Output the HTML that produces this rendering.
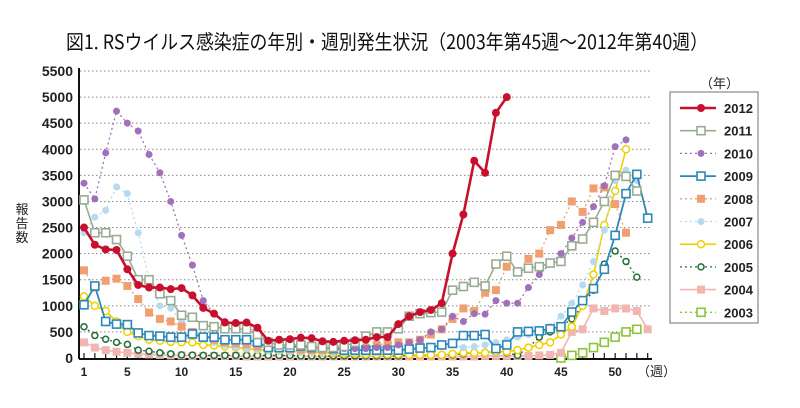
<!DOCTYPE html>
<html><head><meta charset="utf-8"><style>
body{margin:0;background:#fff;width:800px;height:403px;overflow:hidden}
</style></head><body>
<svg id="s" width="800" height="403" xmlns="http://www.w3.org/2000/svg" font-family="Liberation Sans, Noto Sans CJK JP, sans-serif">
<text x="66" y="49" font-size="20" font-family="Noto Sans CJK JP, sans-serif" textLength="642" lengthAdjust="spacingAndGlyphs" fill="#111">図1. RSウイルス感染症の年別・週別発生状況（2003年第45週〜2012年第40週）</text>
</svg>
<script>
const s=document.getElementById('s');const NS='http://www.w3.org/2000/svg';
function el(t,a,txt){const e=document.createElementNS(NS,t);for(const k in a)e.setAttribute(k,a[k]);if(txt!=null)e.textContent=txt;s.appendChild(e);return e;}
const X=w=>84+(w-1)*10.84, Y=v=>358-v*(287/5500);
// grid
for(let v=500;v<=5500;v+=500){el('line',{x1:80,x2:652,y1:Y(v),y2:Y(v),stroke:'#888','stroke-width':1,'stroke-dasharray':'1.5,2.5'});}
for(let v=0;v<=5500;v+=500){el('text',{x:73,y:Y(v)+5,'text-anchor':'end','font-size':14,'font-weight':'bold',fill:'#222'},v);}
el('line',{x1:79,x2:79,y1:68,y2:359,stroke:'#111','stroke-width':2});
el('line',{x1:79,x2:652,y1:359,y2:359,stroke:'#111','stroke-width':2});
for(let w=1;w<=53;w++){el('line',{x1:X(w),x2:X(w),y1:359,y2:353,stroke:'#111','stroke-width':1.2});}
[1,5,10,15,20,25,30,35,40,45,50].forEach(w=>el('text',{x:X(w),y:376,'text-anchor':'middle','font-size':12,'font-weight':'bold',fill:'#222'},w));
el('text',{x:637,y:376,'font-size':13,'font-family':'Noto Sans CJK JP, sans-serif',fill:'#222'},'（週）');
['報','告','数'].forEach((c,i)=>el('text',{x:22,y:214+i*14,'text-anchor':'middle','font-size':13,'font-family':'Noto Sans CJK JP, sans-serif',fill:'#222'},c));
const S=[
['2012','#c8102e',2.6,'none','dot',4,1,[2500,2170,2080,2070,1700,1400,1350,1350,1320,1340,1200,960,850,680,670,680,580,330,350,360,390,380,320,310,330,340,350,400,400,650,800,880,920,1050,2000,2750,3780,3550,4700,5000]],
['2011','#9aab94',1.6,'none','sq',4,1,[3030,2400,2400,2270,1950,1500,1500,1230,1100,820,780,620,600,560,560,550,450,300,250,250,250,220,200,200,220,300,420,500,500,560,800,850,870,880,1300,1370,1450,1380,1800,1950,1650,1720,1750,1820,1850,2150,2280,2600,3000,3500,3480,3200]],
['2010','#a070b8',1.3,'2,3','dot',3.5,1,[3350,3050,3930,4730,4500,4350,3900,3550,3000,2350,1780,1100,850,700,650,600,500,300,250,250,230,200,200,180,180,180,180,200,200,250,300,350,500,550,800,700,850,840,1100,1050,1050,1350,1600,1800,2000,2300,2600,2900,3300,4050,4180]],
['2009','#2b88b8',1.8,'none','sq',4,1,[1020,1380,700,650,640,480,430,420,400,400,460,400,400,350,350,350,300,200,200,200,230,200,200,180,150,150,150,150,150,150,170,190,200,250,280,430,430,450,180,250,500,510,520,560,600,880,1100,1330,1700,2350,3150,3520,2680]],
['2008','#f0a070',1.3,'2,3','fsq',4,1,[1680,1350,1480,1520,1380,1130,870,750,700,600,500,400,350,300,280,260,220,200,180,170,160,150,150,150,160,180,200,250,280,300,300,350,450,550,750,950,900,1250,1300,1750,1650,1900,2000,2450,2550,3000,2800,3250,3270,2950,2400]],
['2007','#b8daf0',1.3,'2,3','dot',3.5,1,[2400,2700,2830,3280,3150,2400,1500,1000,950,700,500,400,300,250,200,180,160,140,130,120,110,100,100,100,100,100,100,100,120,130,150,180,200,220,250,200,220,250,300,350,400,450,500,600,800,1050,1400,1850,2450,3400,3600,3400]],
['2006','#f0d000',1.6,'none','circ',3.5,1,[1180,1000,900,700,500,420,350,330,310,300,300,250,240,220,200,180,160,150,140,130,120,110,100,90,80,80,70,70,70,70,60,60,60,60,80,100,100,100,120,120,150,200,250,300,450,600,1000,1600,2550,3200,4000]],
['2005','#1e6e3a',1.3,'2,3','circ',3,1,[600,430,360,300,260,150,130,100,80,60,55,50,50,50,50,50,50,50,50,50,40,40,40,40,40,40,40,40,40,40,50,50,50,50,60,80,100,100,150,100,50,200,400,500,600,750,1000,1300,1800,2050,1850,1550]],
['2004','#f2b6b0',1.6,'none','fsq',4,1,[300,200,150,120,100,80,70,60,50,50,40,40,40,40,40,30,30,30,30,30,30,30,30,30,30,30,30,30,30,30,30,30,30,30,30,30,30,40,40,40,40,40,50,60,100,500,550,950,900,950,950,900,550]],
['2003','#8cc43c',1.3,'2,3','sq',4,45,[0,50,100,200,300,400,500,550]],
];
function mark(t,x,y,c,r){if(t==='dot')el('circle',{cx:x,cy:y,r:r,fill:c});else if(t==='circ')el('circle',{cx:x,cy:y,r:r,fill:'#fff',stroke:c,'stroke-width':1.5});else if(t==='sq')el('rect',{x:x-r,y:y-r,width:2*r,height:2*r,fill:'#fff',stroke:c,'stroke-width':1.6});else el('rect',{x:x-r,y:y-r,width:2*r,height:2*r,fill:c});}
S.slice().reverse().forEach(([n,c,w,d,m,r,st,v])=>{const pts=v.map((a,i)=>[X(st+i),Y(a)]);el('polyline',{points:pts.map(p=>p.join(',')).join(' '),fill:'none',stroke:c,'stroke-width':w,'stroke-dasharray':d});pts.forEach(p=>mark(m,p[0],p[1],c,r));});
// legend
el('text',{x:700,y:88,'font-size':13,'font-family':'Noto Sans CJK JP, sans-serif',fill:'#222'},'（年）');
el('rect',{x:670,y:92,width:88,height:231,fill:'#fff',stroke:'#888','stroke-width':1.2});
S.forEach(([n,c,w,d,m,r],i)=>{const y=108+i*22.7;el('line',{x1:680,x2:716,y1:y,y2:y,stroke:c,'stroke-width':w,'stroke-dasharray':d});mark(m,701,y,c,r);el('text',{x:724,y:y+5,'font-size':13,'font-weight':'bold',fill:'#222'},n);});
</script>
</body></html>
